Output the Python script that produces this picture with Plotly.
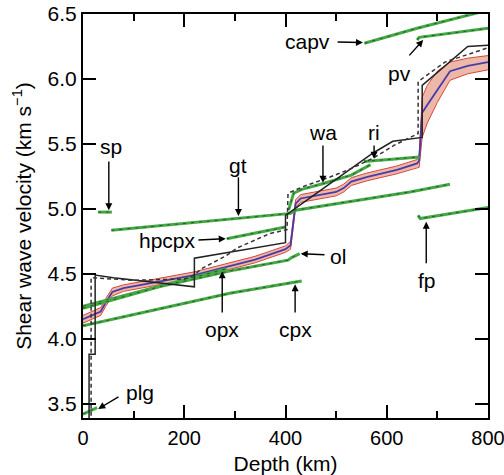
import plotly.graph_objects as go

# ---------------- data ----------------
# mineral shear velocities (green lines)
plg_d = [0, 28];                      plg_v = [3.42, 3.47]
sp_d = [30, 57];                      sp_v = [4.975, 4.975]
gt_d = [56, 410, 420, 646, 725];      gt_v = [4.835, 4.965, 4.99, 5.13, 5.19]
hpcpx_d = [284, 400];                 hpcpx_v = [4.77, 4.86]
opx_d = [0, 284];                     opx_v = [4.25, 4.54]
ol_d = [0, 150, 300, 405, 412, 428];  ol_v = [4.235, 4.40, 4.53, 4.605, 4.625, 4.655]
cpx_d = [0, 290, 432];                cpx_v = [4.10, 4.35, 4.445]
wa_d = [406, 416, 432, 475, 530, 560, 568]
wa_v = [4.99, 5.12, 5.15, 5.195, 5.26, 5.32, 5.34]
ri_d = [555, 665];                    ri_v = [5.365, 5.40]
fp_d = [662, 666, 800];               fp_v = [4.95, 4.925, 5.01]
capv_d = [556, 660, 800];             capv_v = [6.275, 6.39, 6.53]
pv_d = [660, 664, 800];               pv_v = [6.30, 6.32, 6.39]

# reference seismic models (black solid / black dashed)
blk_d = [0, 12, 12, 24, 24, 60, 220, 220, 400, 400, 573, 612, 670, 670, 760, 800]
blk_v = [3.30, 3.30, 3.88, 3.88, 4.49, 4.47, 4.40, 4.62, 4.74, 4.95, 5.43, 5.52, 5.55, 5.95, 6.25, 6.26]
dsh_d = [16, 16, 100, 200, 215, 237, 283, 305, 369, 403, 405, 434, 488, 530, 573, 615, 662, 662, 715, 800]
dsh_v = [3.30, 4.47, 4.45, 4.46, 4.48, 4.545, 4.64, 4.70, 4.81, 4.84, 5.12, 5.17, 5.245, 5.31, 5.39, 5.49, 5.58, 5.98, 6.13, 6.24]

# computed aggregate velocity (blue) with uncertainty band (red)
band_d = [0, 35, 45, 58, 80, 220, 280, 340, 400, 410, 420, 430, 500, 515, 530, 560, 620, 660, 664, 670, 680, 700, 725, 760, 800]
band_c = [4.15, 4.21, 4.28, 4.36, 4.39, 4.49, 4.55, 4.61, 4.69, 4.72, 5.04, 5.08, 5.13, 5.16, 5.21, 5.245, 5.30, 5.35, 5.37, 5.74, 5.80, 5.915, 6.06, 6.10, 6.13]
band_hi = [4.18, 4.24, 4.31, 4.39, 4.415, 4.515, 4.575, 4.635, 4.715, 4.75, 5.07, 5.11, 5.16, 5.19, 5.24, 5.275, 5.33, 5.38, 5.42, 5.86, 5.95, 6.06, 6.13, 6.16, 6.18]
band_lo = [4.12, 4.18, 4.25, 4.33, 4.365, 4.465, 4.525, 4.585, 4.665, 4.69, 5.01, 5.05, 5.10, 5.13, 5.18, 5.215, 5.27, 5.32, 5.32, 5.55, 5.66, 5.82, 5.99, 6.04, 6.07]

# labels: text position and arrow (tail -> head), in data units
labels = ["capv", "pv", "sp", "gt", "wa", "ri", "hpcpx", "opx", "cpx", "ol", "fp", "plg"]
label_d = [444, 626, 56, 307, 475, 575, 166, 275, 419, 504, 680, 113]
label_v = [6.285, 6.04, 5.477, 5.33, 5.59, 5.59, 4.76, 4.07, 4.07, 4.63, 4.45, 3.585]
tail_d = [500, 642, 51, 307, 474, 575, 225, 275, 419, 480, 678, 73]
tail_v = [6.285, 6.17, 5.377, 5.255, 5.50, 5.50, 4.76, 4.19, 4.19, 4.646, 4.57, 3.56]
head_d = [553, 672, 51, 307, 474, 575, 282, 275, 419, 430, 678, 30]
head_v = [6.28, 6.30, 4.99, 4.945, 5.20, 5.385, 4.77, 4.52, 4.42, 4.655, 4.90, 3.46]

x_ticks = [0, 200, 400, 600, 800]
y_ticks = [3.5, 4.0, 4.5, 5.0, 5.5, 6.0, 6.5]

# ---------------- figure ----------------
FONT = "Liberation Sans, Arial, sans-serif"
fig = go.Figure()

# uncertainty band
fig.add_trace(go.Scatter(x=band_d + band_d[::-1], y=band_hi + band_lo[::-1],
                         fill="toself", fillcolor="rgba(230,160,140,0.75)",
                         line=dict(width=0), mode="lines", hoverinfo="skip"))
fig.add_trace(go.Scatter(x=band_d, y=band_hi, mode="lines",
                         line=dict(color="#d9473a", width=1)))
fig.add_trace(go.Scatter(x=band_d, y=band_lo, mode="lines",
                         line=dict(color="#d9473a", width=1)))
fig.add_trace(go.Scatter(x=band_d, y=band_c, mode="lines",
                         line=dict(color="#4a3aa8", width=1.8)))

# green mineral lines
for d, v in [(plg_d, plg_v), (sp_d, sp_v), (gt_d, gt_v), (hpcpx_d, hpcpx_v),
             (opx_d, opx_v), (ol_d, ol_v), (cpx_d, cpx_v), (wa_d, wa_v),
             (ri_d, ri_v), (fp_d, fp_v), (capv_d, capv_v), (pv_d, pv_v)]:
    fig.add_trace(go.Scatter(x=d, y=v, mode="lines",
                             line=dict(color="#45a845", width=3)))
    fig.add_trace(go.Scatter(x=d, y=v, mode="lines",
                             line=dict(color="#1f5c28", width=1, dash="3px,5px")))

# black models
fig.add_trace(go.Scatter(x=blk_d, y=blk_v, mode="lines",
                         line=dict(color="#222222", width=1.5)))
fig.add_trace(go.Scatter(x=dsh_d, y=dsh_v, mode="lines",
                         line=dict(color="#333333", width=1.5, dash="4px,3px")))

annotations = []
for t, ld, lv, td, tv, hd, hv in zip(labels, label_d, label_v, tail_d, tail_v, head_d, head_v):
    annotations.append(dict(x=ld, y=lv, xref="x", yref="y", text=t, showarrow=False,
                            font=dict(family=FONT, size=21, color="black")))
    annotations.append(dict(x=hd, y=hv, ax=td, ay=tv, xref="x", yref="y",
                            axref="x", ayref="y", text="", showarrow=True,
                            arrowhead=2, arrowsize=1, arrowwidth=1.4,
                            arrowcolor="black", standoff=0, startstandoff=0))

fig.update_layout(
    width=504, height=475,
    margin=dict(l=83, r=16, t=14, b=57, autoexpand=False),
    paper_bgcolor="white", plot_bgcolor="white",
    showlegend=False,
    font=dict(family=FONT, size=21, color="black"),
    annotations=annotations,
    xaxis2=dict(overlaying="x", side="top", range=[0, 800], tickvals=x_ticks,
                ticks="inside", ticklen=13, tickwidth=2, tickcolor="black",
                showticklabels=False, showgrid=False, zeroline=False, showline=False,
                minor=dict(dtick=100, tick0=0, ticks="inside", ticklen=7,
                           tickwidth=2, tickcolor="black", showgrid=False)),
)
# invisible trace to activate the top axis
fig.add_trace(go.Scatter(x=[0, 800], y=[3.39, 3.39], mode="lines", xaxis="x2",
                         line=dict(width=0), hoverinfo="skip"))
fig.update_layout(xaxis=dict(
    range=[0, 800], tickvals=x_ticks, ticks="inside", ticklen=13,
    tickwidth=2, tickcolor="black", showline=True, linewidth=2,
    linecolor="black", mirror=True, showgrid=False, zeroline=False,
    automargin=False, ticklabeloverflow="allow", ticklabelstandoff=1,
    minor=dict(dtick=100, tick0=0, ticks="inside", ticklen=7,
               tickwidth=2, tickcolor="black", showgrid=False),
    tickfont=dict(family=FONT, size=20),
    title=dict(text="Depth (km)", font=dict(family=FONT, size=21), standoff=9)))
fig.update_layout(yaxis=dict(
    range=[3.39, 6.5], tickvals=y_ticks, tickformat=".1f",
    ticks="inside", ticklen=13, tickwidth=2, tickcolor="black",
    showline=True, linewidth=2, linecolor="black", mirror="ticks",
    showgrid=False, zeroline=False, automargin=False, ticklabeloverflow="allow",
    tickfont=dict(family=FONT, size=21),
    title=dict(text="Shear wave velocity (km s<sup>\u22121</sup>)",
               font=dict(family=FONT, size=21), standoff=10)))

fig.write_html("out.html")
